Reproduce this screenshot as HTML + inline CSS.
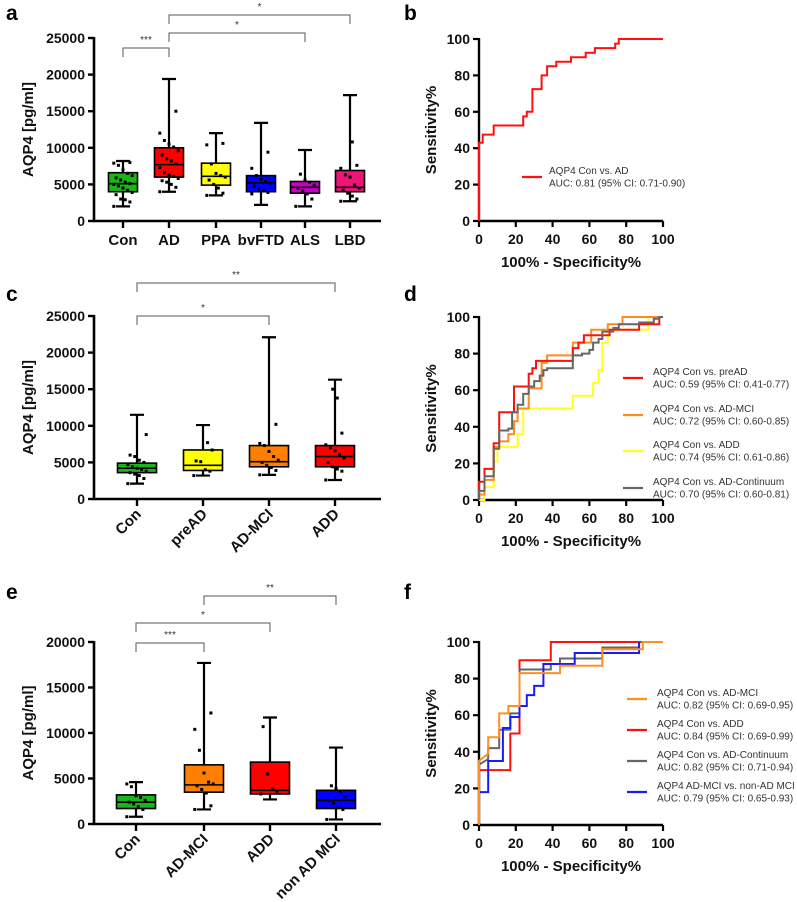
<!DOCTYPE html>
<html><head><meta charset="utf-8">
<style>
body{margin:0;background:#fff;}
svg{display:block;font-family:"Liberation Sans",Arial,sans-serif;}
.tk{font-size:14px;font-weight:bold;fill:#111;}
.cat{font-size:15px;font-weight:bold;fill:#111;}
.yl{font-size:15px;font-weight:bold;fill:#111;}
.pl{font-size:21px;font-weight:bold;fill:#000;}
.lg{font-size:10px;fill:#333;}
.st{font-size:10px;fill:#333;}
</style></head>
<body>
<svg id="fig" width="797" height="902" viewBox="0 0 797 902"></svg>
<script>
// ---------- Panel a data ----------
const aCats = ["Con","AD","PPA","bvFTD","ALS","LBD"];
const aMin = [2000,4000,3500,2200,2000,2700];
const aQ1  = [4000,6000,4900,4000,3800,4000];
const aMed = [5100,7700,6100,5200,4600,4600];
const aQ3  = [6600,10000,7900,6200,5400,6900];
const aMax = [8200,19400,12000,13400,9700,17200];
const aDots = [
 [2000,2600,2900,3000,3600,3900,4200,4500,4800,5000,5100,5300,5600,5900,6200,6500,7000,7600,7900,8000],
 [4000,4600,5000,5300,5500,5800,6100,6300,6600,7300,7800,8200,8500,9000,9600,10100,10500,11000,12000,15000],
 [3500,3800,4500,5000,5600,6000,6200,6500,7800,10400,10600],
 [3700,3900,4100,4400,4800,5200,5400,5700,6200,7200,9400],
 [2000,3000,3700,4100,4500,4900,5300,5600,6400],
 [2700,3000,3400,3800,4200,4500,4900,6000,6300,7200,7600,10800]
];
const aTicks = [0,5000,10000,15000,20000,25000];
const aColors = ["#1ab51a","#ff0000","#ffff00","#0000ff","#c800c8","#f0147a"];

// ---------- Panel c data ----------
const cCats = ["Con","preAD","AD-MCI","ADD"];
const cMin = [2100,3200,3300,2600];
const cQ1  = [3600,3900,4400,4400];
const cMed = [4200,4600,5100,5800];
const cQ3  = [4900,6700,7300,7300];
const cMax = [11500,10100,22100,16300];
const cDots = [
 [2100,2800,3200,3400,3600,3800,4000,4200,4400,4700,5000,5300,5800,6000,8800],
 [3200,3800,4000,5100,5200,6700,7700],
 [3300,3900,4300,4600,5000,5300,5800,6500,7300,7600,10200],
 [2600,3800,4100,4400,5000,5600,6100,6600,7000,7400,9000,13800,15000]
];
const cTicks = [0,5000,10000,15000,20000,25000];
const cColors = ["#1ab51a","#ffff00","#ff8000","#ff0000"];

// ---------- Panel e data ----------
const eCats = ["Con","AD-MCI","ADD","non AD MCI"];
const eMin = [800,1600,2700,500];
const eQ1  = [1700,3500,3300,1700];
const eMed = [2400,4300,3700,2600];
const eQ3  = [3200,6500,6800,3700];
const eMax = [4600,17700,11700,8400];
const eDots = [
 [800,1600,1900,2200,2400,2600,2900,3100,4100,4400],
 [1600,2000,3400,3800,4200,4400,4600,5600,8100,10400,12200],
 [3300,3600,3900,5500,10700],
 [500,1600,1800,2300,2600,3000,3600,3900,4200]
];
const eTicks = [0,5000,10000,15000,20000];
const eColors = ["#1ab51a","#ff8000","#ff0000","#0000ff"];

// ---------- ROC data ----------
const bRedX = [0,0,2,2,8,8,24,24,26,26,29,29,34,34,37,37,42,42,50,50,58,58,63,63,74,74,76,76,100];
const bRedY = [0,43,43,47.5,47.5,52.5,52.5,57.5,57.5,60,60,72.5,72.5,80,80,85,85,87.5,87.5,90,90,92.5,92.5,95,95,97.5,97.5,100,100];

const dRedX = [0,0,3,3,8,8,11,11,19,19,27,27,29,29,31,31,51,51,54,54,57,57,71,71,87,87,98,98,100];
const dRedY = [0,10,10,17,17,31,31,48,48,62,62,69,69,72,72,76,76,83,83,86,86,90,90,93,93,96,96,100,100];
const dOrX = [0,0,3,3,8,8,11,11,16,16,19,19,21,21,27,27,34,34,37,37,51,51,61,61,70,70,78,78,100];
const dOrY = [0,3,3,11,11,29,29,32,32,36,36,43,43,50,50,61,61,75,75,79,79,86,86,93,93,96,96,100,100];
const dYeX = [0,3,3,8,8,10,10,21,21,24,24,51,51,62,62,65,65,67,67,70,70,92,92,100];
const dYeY = [0,0,7,7,21,21,29,29,36,36,50,50,57,57,64,64,71,71,86,86,93,93,100,100];
const dGrX = [0,0,3,3,8,8,11,11,16,16,18,18,21,21,24,24,27,27,30,30,33,33,35,35,37,37,51,51,56,56,60,60,62,62,65,65,67,67,73,73,76,76,87,87,95,95,98,98,100];
const dGrY = [0,5,5,13,13,28,28,38,38,39,39,48,48,52,52,58,58,62,62,65,65,68,68,71,71,72,72,79,79,80,80,82,82,86,86,88,88,92,92,94,94,96,96,97,97,99,99,100,100];

const fOrX = [0,0,5,5,11,11,16,16,22,22,44,44,67,67,89,89,100];
const fOrY = [0,35,39,48,48,61,61,65,65,83,83,87,87,96,96,100,100];
const fRedX = [0,17,17,22,22,39,39,100];
const fRedY = [30,30,50,50,90,90,100,100];
const fGrX = [0,5,5,11,11,17,17,22,22,39,39,44,44,67,67,87,87,100];
const fGrY = [33,36,42,42,52,52,61,61,85,85,88,88,91,91,97,97,100,100];
const fBlX = [0,5,5,13,13,17,17,22,22,26,26,30,30,35,35,52,52,87,87];
const fBlY = [18,18,35,35,53,53,59,59,65,65,71,71,76,76,88,88,94,94,100];

const svg = document.getElementById('fig');
const NS = 'http://www.w3.org/2000/svg';
function mk(tag, attrs, parent, text){
  const el = document.createElementNS(NS, tag);
  for (const k in attrs) el.setAttribute(k, attrs[k]);
  if (text !== undefined) el.textContent = text;
  (parent||svg).appendChild(el);
  return el;
}
function grp(name){
  const g = mk('g', {});
  
  
  return g;
}

// ---------- box panel ----------
function boxPanel(p){
  const g = grp(p.name);
  const yS = v => p.y0 - (v / p.yMax) * (p.y0 - p.yTop);
  const xS = i => p.xs[i];
  const L = mk('text', {x:p.letterX, y:p.letterY, class:'pl'}, g, p.letter);
  
  
  const yt = mk('text', {x:0, y:0, class:'yl', 'text-anchor':'middle', transform:`translate(33,${(p.y0+p.yTop)/2}) rotate(-90)`}, g, 'AQP4 [pg/ml]');
  
  
  const ax = mk('path', {d:`M${p.xAxis},${p.yTop-1} V${p.y0} H381`, stroke:'#000', 'stroke-width':2.6, fill:'none'}, g);
  
  
  p.ticks.forEach(t => {
    mk('line', {x1:p.xAxis-6, x2:p.xAxis, y1:yS(t), y2:yS(t), stroke:'#000', 'stroke-width':2.4}, g);
    const tl = mk('text', {x:p.xAxis-9, y:yS(t)+5, class:'tk', 'text-anchor':'end'}, g, String(t));
    
    
  });
  p.cats.forEach((c, i) => {
    const x = xS(i);
    mk('line', {x1:x, x2:x, y1:p.y0, y2:p.y0+7, stroke:'#000', 'stroke-width':2.4}, g);
    let lab;
    if (p.rot) {
      lab = mk('text', {x:0, y:0, class:'cat', 'text-anchor':'end', transform:`translate(${x+5},${p.y0+16}) rotate(-45)`}, g, c);
    } else {
      lab = mk('text', {x:x, y:p.y0+24, class:'cat', 'text-anchor':'middle'}, g, c);
    }
    
    
    const w = mk('path', {d:`M${x},${yS(p.min[i])} V${yS(p.max[i])} M${x-7},${yS(p.min[i])} H${x+7} M${x-7},${yS(p.max[i])} H${x+7}`, stroke:'#000', 'stroke-width':2.2, fill:'none'}, g);
    
    
    const b = mk('rect', {x:x-p.hw, y:yS(p.q3[i]), width:2*p.hw, height:yS(p.q1[i])-yS(p.q3[i]), fill:p.colors[i], stroke:'#000', 'stroke-width':1.6}, g);
    
    
    const m = mk('line', {x1:x-p.hw, x2:x+p.hw, y1:yS(p.med[i]), y2:yS(p.med[i]), stroke:'#000', 'stroke-width':1.6}, g);
    
    
    p.dots[i].forEach((v, j) => {
      const off = (((j * 7) % 9) - 4) * 2.3;
      const d = mk('rect', {x:x+off-1.5, y:yS(v)-1.5, width:3, height:3, fill:'#000'}, g);
      
      
    });
  });
  p.brackets.forEach(br => {
    const x1 = xS(br[0]), x2 = xS(br[1]), y = br[2];
    const bp = mk('path', {d:`M${x1},${y+9} V${y} H${x2} V${y+9}`, stroke:'#555', 'stroke-width':1, fill:'none'}, g);
    
    
    const s = mk('text', {x:(x1+x2)/2, y:y-5, class:'st', 'text-anchor':'middle'}, g, br[3]);
    
    
  });
}

boxPanel({name:'panel-a', letter:'a', letterX:6, letterY:20, xAxis:94, y0:221, yTop:38, yMax:25000,
  cats:aCats, min:aMin, q1:aQ1, med:aMed, q3:aQ3, max:aMax, dots:aDots, ticks:aTicks, colors:aColors,
  xs:[123,169,216,261,305,350], hw:14.5, rot:false,
  brackets:[[0,1,48,'***'],[1,4,33,'*'],[1,5,15,'*']]});
boxPanel({name:'panel-c', letter:'c', letterX:6, letterY:301, xAxis:94, y0:499, yTop:316, yMax:25000,
  cats:cCats, min:cMin, q1:cQ1, med:cMed, q3:cQ3, max:cMax, dots:cDots, ticks:cTicks, colors:cColors,
  xs:[137,203,269,335], hw:19.5, rot:true,
  brackets:[[0,2,316,'*'],[0,3,283,'**']]});
boxPanel({name:'panel-e', letter:'e', letterX:6, letterY:599, xAxis:94, y0:824, yTop:642, yMax:20000,
  cats:eCats, min:eMin, q1:eQ1, med:eMed, q3:eQ3, max:eMax, dots:eDots, ticks:eTicks, colors:eColors,
  xs:[136,204,270,336], hw:19.5, rot:true,
  brackets:[[0,1,643,'***'],[0,2,623,'*'],[1,3,596,'**']]});

// ---------- ROC panel ----------
function rocPanel(p){
  const g = grp(p.name);
  const xS = v => 479 + v / 100 * 184;
  const yS = v => p.y0 - v / 100 * (p.y0 - p.yTop);
  const L = mk('text', {x:404, y:p.letterY, class:'pl'}, g, p.letter);
  
  
  const yt = mk('text', {x:0, y:0, class:'yl', 'text-anchor':'middle', transform:`translate(436,${(p.y0+p.yTop)/2}) rotate(-90)`}, g, 'Sensitivity%');
  
  
  const xt = mk('text', {x:571, y:p.y0+46, class:'yl', 'text-anchor':'middle'}, g, '100% - Specificity%');
  
  
  const ax = mk('path', {d:`M479,${p.yTop-1} V${p.y0} H663`, stroke:'#000', 'stroke-width':2.4, fill:'none'}, g);
  
  
  [0,20,40,60,80,100].forEach(t => {
    mk('line', {x1:473, x2:479, y1:yS(t), y2:yS(t), stroke:'#000', 'stroke-width':2.2}, g);
    const tl = mk('text', {x:470, y:yS(t)+5, class:'tk', 'text-anchor':'end'}, g, String(t));
    
    
    mk('line', {x1:xS(t), x2:xS(t), y1:p.y0, y2:p.y0+6, stroke:'#000', 'stroke-width':2.2}, g);
    const xl = mk('text', {x:xS(t), y:p.y0+23, class:'tk', 'text-anchor':'middle'}, g, String(t));
    
    
  });
  p.series.forEach(s => {
    const d = s.x.map((v, i) => (i ? 'L' : 'M') + xS(v).toFixed(1) + ',' + yS(s.y[i]).toFixed(1)).join(' ');
    const ln = mk('path', {d:d, stroke:s.c, 'stroke-width':2, fill:'none'}, g);
    
    
  });
  p.series.forEach(s => {
    const le = grp('legend-entry-' + s.id);
    g.appendChild(le);
    mk('line', {x1:p.lx, x2:p.lx+20, y1:s.ly, y2:s.ly, stroke:s.c, 'stroke-width':2.2}, le);
    mk('text', {x:p.tx, y:s.ly-3, class:'lg'}, le, s.l1);
    mk('text', {x:p.tx, y:s.ly+9.5, class:'lg'}, le, s.l2);
  });
}

rocPanel({name:'panel-b', letter:'b', letterY:20, y0:221, yTop:39, lx:522, tx:549, series:[
  {id:'con-vs-ad', x:bRedX, y:bRedY, c:'#ff1010', ly:177, l1:'AQP4 Con vs. AD', l2:'AUC: 0.81 (95% CI: 0.71-0.90)'}]});
rocPanel({name:'panel-d', letter:'d', letterY:301, y0:500, yTop:317, lx:623, tx:653, series:[
  {id:'con-vs-add', x:dYeX, y:dYeY, c:'#ffff20', ly:451, l1:'AQP4 Con vs. ADD', l2:'AUC: 0.74 (95% CI: 0.61-0.86)'},
  {id:'con-vs-ad-mci', x:dOrX, y:dOrY, c:'#ff8c1a', ly:415, l1:'AQP4 Con vs. AD-MCI', l2:'AUC: 0.72 (95% CI: 0.60-0.85)'},
  {id:'con-vs-pread', x:dRedX, y:dRedY, c:'#ff1010', ly:378, l1:'AQP4 Con vs. preAD', l2:'AUC: 0.59 (95% CI: 0.41-0.77)'},
  {id:'con-vs-ad-continuum', x:dGrX, y:dGrY, c:'#666666', ly:488, l1:'AQP4 Con vs. AD-Continuum', l2:'AUC: 0.70 (95% CI: 0.60-0.81)'}]});
rocPanel({name:'panel-f', letter:'f', letterY:599, y0:825, yTop:642, lx:627, tx:657, series:[
  {id:'con-vs-add', x:fRedX, y:fRedY, c:'#ff1010', ly:730, l1:'AQP4 Con vs. ADD', l2:'AUC: 0.84 (95% CI: 0.69-0.99)'},
  {id:'con-vs-ad-continuum', x:fGrX, y:fGrY, c:'#666666', ly:761, l1:'AQP4 Con vs. AD-Continuum', l2:'AUC: 0.82 (95% CI: 0.71-0.94)'},
  {id:'ad-mci-vs-non-ad-mci', x:fBlX, y:fBlY, c:'#1a1aff', ly:792, l1:'AQP4 AD-MCI vs. non-AD MCI', l2:'AUC: 0.79 (95% CI: 0.65-0.93)'},
  {id:'con-vs-ad-mci', x:fOrX, y:fOrY, c:'#ff9020', ly:699, l1:'AQP4 Con vs. AD-MCI', l2:'AUC: 0.82 (95% CI: 0.69-0.95)'}]});
</script>
</body></html>
